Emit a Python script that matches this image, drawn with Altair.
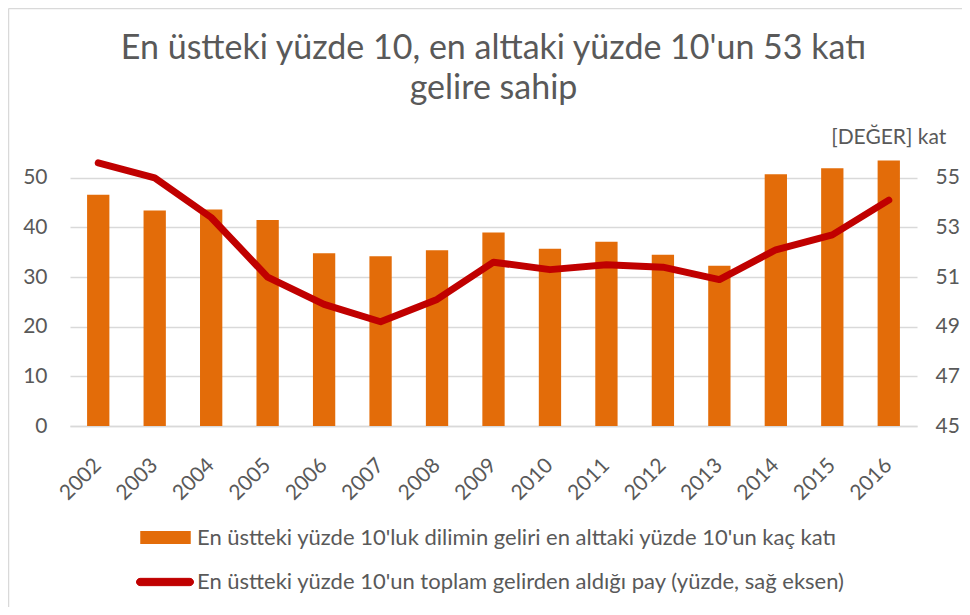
import altair as alt
import pandas as pd

years = ["2002", "2003", "2004", "2005", "2006", "2007", "2008", "2009",
         "2010", "2011", "2012", "2013", "2014", "2015", "2016"]
ratio = [46.6, 43.4, 43.6, 41.5, 34.8, 34.2, 35.4, 39.0,
         35.7, 37.1, 34.5, 32.3, 50.7, 51.9, 53.5]
share = [55.6, 55.0, 53.4, 51.0, 49.9, 49.2, 50.1, 51.6,
         51.3, 51.5, 51.4, 50.9, 52.1, 52.7, 54.1]
bar_label = "En üstteki yüzde 10'luk dilimin geliri en alttaki yüzde 10'un kaç katı"
line_label = "En üstteki yüzde 10'un toplam gelirden aldığı pay (yüzde, sağ eksen)"
title_lines = ["En üstteki yüzde 10, en alttaki yüzde 10'un 53 katı", "gelire sahip"]
value_label = "[DEĞER] kat"
left_ticks = [0, 10, 20, 30, 40, 50]
right_ticks = [45, 47, 49, 51, 53, 55]

df = pd.DataFrame({"yil": years, "kat": ratio, "pay": share,
                   "bar_s": bar_label, "line_s": line_label})

FONT = "Lato"
GRAY = "#595959"
GRID = "#D9D9D9"
ORANGE = "#E36C09"
RED = "#C00000"

xenc = alt.X("yil:N", title=None, sort=None,
             scale=alt.Scale(paddingInner=0.605, paddingOuter=0.3025),
             axis=alt.Axis(labelAngle=-45, labelAlign="right", labelBaseline="middle",
                           labelPadding=36, labelOffset=0, ticks=False, domain=True,
                           domainColor=GRID, domainWidth=1.5, labelFontSize=21,
                           labelColor=GRAY, labelFont=FONT, grid=False))

yleft = alt.Y("kat:Q", title=None,
              scale=alt.Scale(domain=[0, 56], nice=False, zero=True),
              axis=alt.Axis(values=left_ticks, grid=True, gridColor=GRID, gridWidth=1.5,
                            domain=False, ticks=False, labelPadding=23, labelFontSize=21,
                            labelColor=GRAY, labelFont=FONT))

base = alt.Chart(df).encode(x=xenc, y=yleft)

bars = base.mark_bar().encode(
    fill=alt.Fill("bar_s:N", scale=alt.Scale(domain=[bar_label], range=[ORANGE]),
                  legend=alt.Legend(title=None, orient="none", legendX=70, legendY=364,
                                    symbolType="M-1,-0.26H1V0.26H-1Z", symbolSize=2550,
                                    symbolStrokeWidth=0, labelFontSize=22, labelFont=FONT,
                                    labelColor=GRAY, labelLimit=1000, labelOffset=6,
                                    padding=0))
)

vlabel = base.transform_filter(alt.datum.yil == "2016").mark_text(
    text=value_label, dy=-22, fontSize=21, font=FONT, color=GRAY)

capsule = ("M-0.872,-0.128H0.872A0.128,0.128 0 0 1 0.872,0.128"
           "H-0.872A0.128,0.128 0 0 1 -0.872,-0.128Z")

line = alt.Chart(df).mark_line(strokeWidth=7, strokeCap="round", strokeJoin="round").encode(
    x=xenc,
    y=alt.Y("pay:Q", title=None,
            scale=alt.Scale(domain=[45, 56.2], nice=False, zero=False),
            axis=alt.Axis(orient="right", values=right_ticks, grid=False, domain=False,
                          ticks=False, labelPadding=18, labelFontSize=21,
                          labelColor=GRAY, labelFont=FONT)),
    stroke=alt.Stroke("line_s:N", scale=alt.Scale(domain=[line_label], range=[RED]),
                      legend=alt.Legend(title=None, orient="none", legendX=66, legendY=405,
                                        symbolType=capsule, symbolSize=3249,
                                        symbolFillColor=RED, symbolStrokeWidth=1,
                                        labelFontSize=22, labelFont=FONT,
                                        labelColor=GRAY, labelLimit=1000,
                                        labelOffset=3, padding=0))
)

frame_df = pd.DataFrame({"k": [0]})
border_left = alt.Chart(frame_df).mark_rule(color=GRID, strokeWidth=1.5).encode(
    x=alt.value(-61.5), y=alt.value(-139.5), y2=alt.value(459))
border_top = alt.Chart(frame_df).mark_rule(color=GRID, strokeWidth=1.5).encode(
    x=alt.value(-61.5), x2=alt.value(892), y=alt.value(-139.5))

chart = alt.layer(
    alt.layer(bars, vlabel), line, border_left, border_top
).resolve_scale(y="independent").properties(
    width=847, height=278,
    autosize=alt.AutoSizeParams(type="none"),
    padding={"left": 62, "top": 140, "right": 45, "bottom": 181},
    title=alt.TitleParams(text=title_lines, fontSize=34, font=FONT, color=GRAY,
                          fontWeight="normal", anchor="middle", frame="group",
                          lineHeight=40, offset=-98)
).configure_view(stroke=None)

chart.save("out.html", embed_options={"renderer": "svg", "actions": False})
